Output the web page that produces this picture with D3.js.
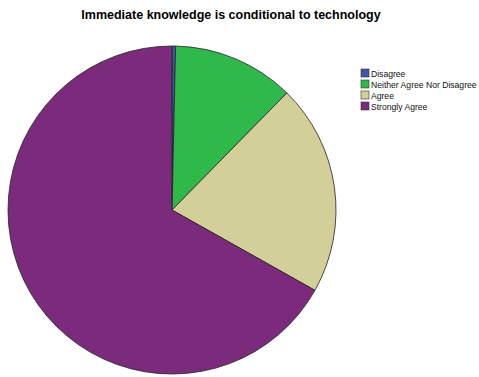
<!DOCTYPE html>
<html>
<head>
<meta charset="utf-8">
<script src="https://cdn.jsdelivr.net/npm/d3@7"></script>
<style>
  body { margin: 0; background: #fff; }
  svg { display: block; font-family: "Liberation Sans", Arial, sans-serif; }
</style>
</head>
<body>
<div id="chart"></div>
<script>
// Data (percent of respondents)
const categories = ['Disagree', 'Neither Agree Nor Disagree', 'Agree', 'Strongly Agree'];
const shares = [0.35, 12.0, 20.8, 66.85];
const colours = ['#3d56a8', '#30b94b', '#d3cf98', '#7b2a7c'];

const svgWidth = 479;
const svgHeight = 377;

const svg = d3.select('#chart')
    .append('svg')
    .attr('width', svgWidth)
    .attr('height', svgHeight);

// Title
svg.append('text')
    .attr('x', 231)
    .attr('y', 19)
    .style('text-anchor', 'middle')
    .style('font-size', '12.5px')
    .style('font-weight', 'bold')
    .text('Immediate knowledge is conditional to technology');

const pieData = categories.map((c, i) => ({ name: c, value: shares[i] }));

const pie = d3.pie()
    .sort(null)
    .value(d => d.value);

const arc = d3.arc()
    .innerRadius(0)
    .outerRadius(164);

const colour = d3.scaleOrdinal()
    .domain(categories)
    .range(colours);

const g = svg.append('g')
    .attr('transform', 'translate(172, 210)');

g.selectAll('path')
    .data(pie(pieData))
    .join('path')
    .attr('d', arc)
    .attr('fill', d => colour(d.data.name))
    .attr('stroke', '#222')
    .attr('stroke-width', 0.8);

// Legend
const legend = svg.append('g')
    .attr('transform', 'translate(361, 69)');

const rows = legend.selectAll('g')
    .data(categories)
    .join('g')
    .attr('transform', (d, i) => 'translate(0, ' + i * 11 + ')');

rows.append('rect')
    .attr('width', 8)
    .attr('height', 8)
    .attr('fill', d => colour(d))
    .attr('stroke', '#333')
    .attr('stroke-width', 0.6);

rows.append('text')
    .attr('x', 10)
    .attr('y', 7.5)
    .style('font-size', '8.6px')
    .style('fill', '#111')
    .text(d => d);
</script>
</body>
</html>
